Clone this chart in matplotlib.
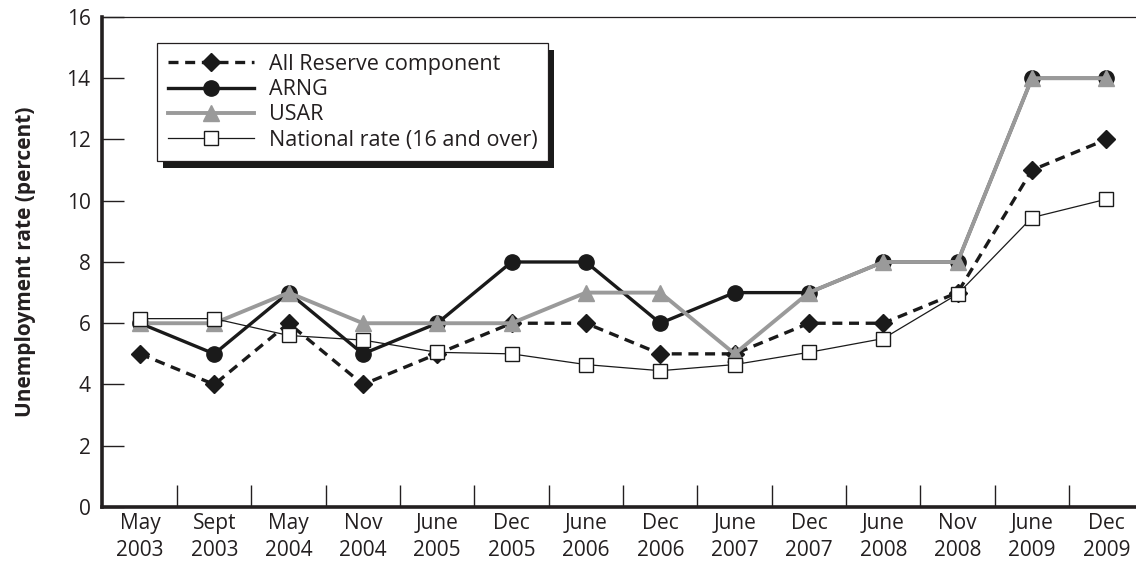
import matplotlib.pyplot as plt
from matplotlib.patches import Rectangle
from matplotlib.ticker import FixedLocator

plt.rcParams['font.family'] = ['Open Sans', 'DejaVu Sans']

periods = ['May\n2003', 'Sept\n2003', 'May\n2004', 'Nov\n2004', 'June\n2005', 'Dec\n2005', 'June\n2006',
           'Dec\n2006', 'June\n2007', 'Dec\n2007', 'June\n2008', 'Nov\n2008', 'June\n2009', 'Dec\n2009']
all_reserve = [5, 4, 6, 4, 5, 6, 6, 5, 5, 6, 6, 7, 11, 12]
arng = [6, 5, 7, 5, 6, 8, 8, 6, 7, 7, 8, 8, 14, 14]
usar = [6, 6, 7, 6, 6, 6, 7, 7, 5, 7, 8, 8, 14, 14]
national = [6.15, 6.15, 5.6, 5.45, 5.05, 5.0, 4.65, 4.45, 4.65, 5.05, 5.5, 6.95, 9.45, 10.05]

text_color = '#231f20'
gray = '#9a9a9a'

fig = plt.figure(figsize=(11.36, 5.61), dpi=100)
ax = fig.add_axes([0.0895, 0.0963, 0.9105, 0.8734])
x = list(range(len(periods)))

l1, = ax.plot(x, all_reserve, color='#1a1a1a', lw=2.4, linestyle='--', dashes=(3, 2),
              marker='D', markersize=9, markerfacecolor='#1a1a1a', markeredgecolor='#1a1a1a', zorder=2,
              label='All Reserve component')
l2, = ax.plot(x, arng, color='#1a1a1a', lw=2.4, marker='o', markersize=11, zorder=3, label='ARNG')
l3, = ax.plot(x, usar, color=gray, lw=2.8, marker='^', markersize=11, markerfacecolor=gray,
              markeredgecolor=gray, zorder=4, label='USAR')
l4, = ax.plot(x, national, color='#1a1a1a', lw=0.9, marker='s', markersize=10, markerfacecolor='white',
              markeredgecolor='#1a1a1a', markeredgewidth=1.0, zorder=5, label='National rate (16 and over)')

ax.set_xlim(-0.515, 13.4)
ax.set_ylim(0, 16)
ax.set_yticks(range(0, 17, 2))
ax.set_xticks(x)
ax.set_xticklabels(periods, fontsize=15, color=text_color, linespacing=1.4)
ax.xaxis.set_minor_locator(FixedLocator([i + 0.5 for i in range(13)]))
ax.tick_params(axis='x', which='major', length=0, pad=4)
ax.tick_params(axis='x', which='minor', direction='in', length=16, width=1.0, color=text_color)
ax.tick_params(axis='y', direction='in', length=16, width=1.0, color=text_color, labelsize=15,
               labelcolor=text_color, pad=8)

for side in ['left', 'bottom']:
    ax.spines[side].set_linewidth(2.6)
    ax.spines[side].set_color(text_color)
ax.spines['top'].set_linewidth(0.9)
ax.spines['top'].set_color(text_color)
ax.spines['right'].set_visible(False)

ax.set_ylabel('Unemployment rate (percent)', fontsize=15, fontweight='bold', color=text_color, labelpad=22)

leg = ax.legend(handles=[l1, l2, l3, l4], loc='upper left', bbox_to_anchor=(157 / 1136, 1 - 43 / 561),
                bbox_transform=fig.transFigure, fontsize=15.5, frameon=True, fancybox=False, framealpha=1,
                edgecolor=text_color, handlelength=4.0, handletextpad=0.7, labelspacing=0.2,
                borderpad=0.5, borderaxespad=0)
for t in leg.get_texts():
    t.set_color(text_color)
leg.get_frame().set_linewidth(0.9)
leg.set_zorder(10)

# offset black shadow behind the legend box
fig.canvas.draw()
bb = leg.get_frame().get_window_extent()
inv = ax.transAxes.inverted()
(x0, y0), (x1, y1) = inv.transform([(bb.x0 + 6, bb.y0 - 7), (bb.x1 + 6, bb.y1 - 7)])
ax.add_patch(Rectangle((x0, y0), x1 - x0, y1 - y0, transform=ax.transAxes,
                       facecolor='#1a1a1a', edgecolor='none', zorder=9))

fig.savefig('out.png', dpi=100)
